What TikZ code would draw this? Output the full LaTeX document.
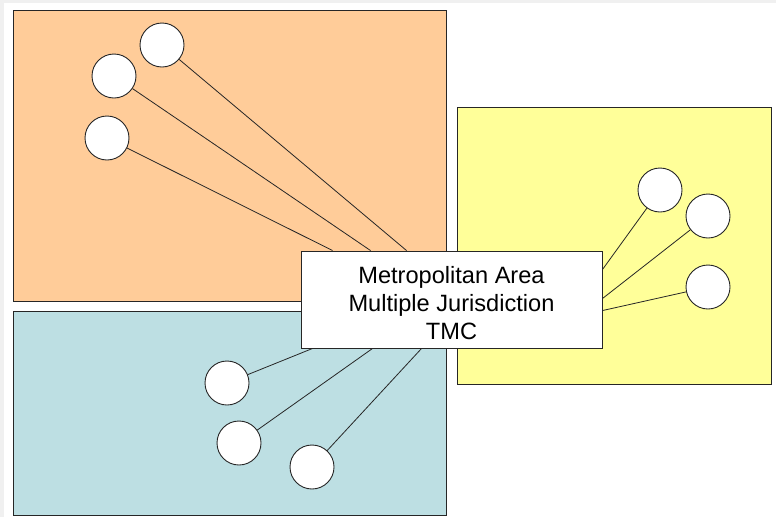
\documentclass[tikz,border=0pt]{standalone}
\usepackage{fontspec}
\setmainfont{Liberation Sans}
\usetikzlibrary{calc}
\definecolor{areaorange}{RGB}{255,204,153}
\definecolor{areablue}{RGB}{189,223,227}
\definecolor{areayellow}{RGB}{255,255,153}
\definecolor{framegray}{RGB}{240,240,240}
\begin{document}
\begin{tikzpicture}[x=1pt,y=-1pt,
  region/.style={draw=black!85,line width=0.9pt},
  site/.style={circle,draw=black!85,fill=white,line width=0.9pt,minimum size=44pt,inner sep=0pt},
  link/.style={draw=black!85,line width=0.8pt},
  hub/.style={draw=black!85,fill=white,line width=0.9pt,minimum width=301pt,minimum height=97pt,inner sep=0pt},
  hubtext/.style={align=center,font=\fontsize{23.6}{28}\selectfont,text=black,inner sep=0pt}]
\useasboundingbox (0,0) rectangle (776,517);
\fill[framegray] (0,0) rectangle (776,517);
\fill[white] (4,3) rectangle (776,517);
% regions
\filldraw[region,fill=areaorange] (13,10) rectangle (446,301);
\filldraw[region,fill=areablue] (13,311) rectangle (446,515);
\filldraw[region,fill=areayellow] (457,107) rectangle (771,384);
% hub
\node[hub] (tmc) at (451.5,299.5) {};
% connector end points on the hub border
\coordinate (eo1) at ($(tmc.north west)+(106,0)$);
\coordinate (eo2) at ($(tmc.north west)+(70,0)$);
\coordinate (eo3) at ($(tmc.north west)+(32,0)$);
\coordinate (eb1) at ($(tmc.south west)+(12,0)$);
\coordinate (eb2) at ($(tmc.south west)+(72,0)$);
\coordinate (eb3) at ($(tmc.south west)+(121,0)$);
\coordinate (ey1) at ($(tmc.north east)+(0,19)$);
\coordinate (ey2) at ($(tmc.north east)+(0,48)$);
\coordinate (ey3) at ($(tmc.north east)+(0,60)$);
% sites
\node[site] (o1) at (162,45) {};
\node[site] (o2) at (114,76) {};
\node[site] (o3) at (107,138) {};
\node[site] (b1) at (227,383) {};
\node[site] (b2) at (239,443) {};
\node[site] (b3) at (312,467) {};
\node[site] (y1) at (660,190) {};
\node[site] (y2) at (708,216) {};
\node[site] (y3) at (708,287) {};
% links
\draw[link] (o1) -- (eo1);
\draw[link] (o2) -- (eo2);
\draw[link] (o3) -- (eo3);
\draw[link] (b1) -- (eb1);
\draw[link] (b2) -- (eb2);
\draw[link] (b3) -- (eb3);
\draw[link] (y1) -- (ey1);
\draw[link] (y2) -- (ey2);
\draw[link] (y3) -- (ey3);
% hub drawn again on top
\node[hub] (tmcbox) at (tmc.center) {};
\node[hubtext] (tmclabel) at ($(tmc.center)+(0,3.5)$) {Metropolitan Area\\Multiple Jurisdiction\\TMC};
\end{tikzpicture}
\end{document}
